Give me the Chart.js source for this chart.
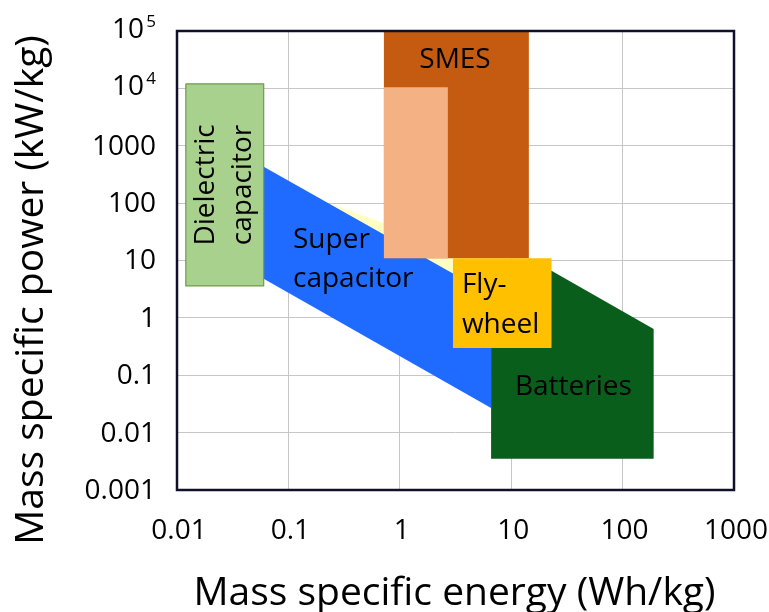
<!DOCTYPE html>
<html>
<head>
<meta charset="utf-8">
<script src="https://cdn.jsdelivr.net/npm/chart.js@4.4.0/dist/chart.umd.min.js"></script>
<style>
body { margin: 0; background: #fff; }
</style>
</head>
<body>
<canvas id="ragone" width="769" height="612"></canvas>
<script>
// axis decades
var energyTicks = [0.01, 0.1, 1, 10, 100, 1000];
var powerTicks = [0.001, 0.01, 0.1, 1, 10, 100, 1000, 1e4, 1e5];

// region outlines, energy in Wh/kg and power in kW/kg
var dielEnergy = [0.012, 0.06, 0.06, 0.012, 0.012];
var dielPower = [12000, 12000, 3.6, 3.6, 12000];

var superEnergy = [0.06, 6.6, 6.6, 0.06, 0.06];
var superPower = [430, 2.5, 0.027, 4.8, 430];

var paleEnergy = [0.24, 3.5, 3.5, 0.24];
var palePower = [100, 14, 3.1, 100];

var battEnergy = [6.6, 6.6, 23, 190, 190, 6.6];
var battPower = [0.0035, 6.6, 6.6, 0.64, 0.0035, 0.0035];

var flyEnergy = [3.0, 23, 23, 3.0, 3.0];
var flyPower = [11, 11, 0.3, 0.3, 11];

var smesEnergy = [0.72, 14.4, 14.4, 0.72, 0.72];
var smesPower = [1e5, 1e5, 11, 11, 1e5];

var smesInnerEnergy = [0.72, 2.7, 2.7, 0.72, 0.72];
var smesInnerPower = [10500, 10500, 11, 11, 10500];

function pts(e, p) {
    return e.map(function (v, i) { return { x: v, y: p[i] }; });
}

//one filled outline
function region(e, p, fill, border) {
    return {
        data: pts(e, p),
        showLine: true,
        fill: 'shape',
        backgroundColor: fill,
        borderColor: border || 'rgba(0,0,0,0)',
        borderWidth: border ? 1.2 : 0,
        pointRadius: 0,
        tension: 0
    };
}

var font = '"Open Sans", "Noto Sans", sans-serif';

var overlay = {
    id: 'overlay',
    afterDatasetsDraw: function (chart) {
        var ctx = chart.ctx, a = chart.chartArea;
        var x = chart.scales.x, y = chart.scales.y;
        ctx.save();
        // frame round the plot
        ctx.strokeStyle = '#10102a';
        ctx.lineWidth = 2.5;
        ctx.strokeRect(a.left, a.top, a.right - a.left, a.bottom - a.top);

        // region names
        ctx.fillStyle = '#000';
        ctx.font = '28px ' + font;
        ctx.textBaseline = 'alphabetic';
        ctx.textAlign = 'center';
        ctx.fillText('SMES', x.getPixelForValue(3.13), y.getPixelForValue(22600));
        ctx.textAlign = 'left';
        ctx.fillText('Super', x.getPixelForValue(0.11), y.getPixelForValue(16.6));
        ctx.fillText('capacitor', x.getPixelForValue(0.11), y.getPixelForValue(3.47));
        ctx.fillText('Fly-', x.getPixelForValue(3.61), y.getPixelForValue(2.73));
        ctx.fillText('wheel', x.getPixelForValue(3.61), y.getPixelForValue(0.548));
        ctx.fillText('Batteries', x.getPixelForValue(10.8), y.getPixelForValue(0.0456));

        // dielectric label runs upwards
        ctx.translate(x.getPixelForValue(0.0264), y.getPixelForValue(207));
        ctx.rotate(-Math.PI / 2);
        ctx.textAlign = 'center';
        ctx.textBaseline = 'middle';
        ctx.fillText('Dielectric', 0, -18);
        ctx.fillText('capacitor', 0, 19);
        ctx.restore();
    },
    afterDraw: function (chart) {
        var ctx = chart.ctx, a = chart.chartArea;
        var x = chart.scales.x, y = chart.scales.y;
        ctx.save();
        ctx.fillStyle = '#000';
        ctx.textBaseline = 'middle';
        ctx.textAlign = 'right';
        // power tick labels, big ones as 10 with a superscript
        powerTicks.forEach(function (v) {
            var py = y.getPixelForValue(v);
            var lx = a.left - 21;
            if (v >= 1e4) {
                ctx.font = '17px ' + font;
                ctx.fillText(String(Math.round(Math.log10(v))), lx, py - 9);
                ctx.font = '28px ' + font;
                ctx.fillText('10', lx - 12, py - 1);
            } else {
                ctx.font = '28px ' + font;
                ctx.fillText(String(v), lx, py + 1);
            }
        });

        // energy tick labels
        ctx.textAlign = 'center';
        ctx.font = '28px ' + font;
        energyTicks.forEach(function (v) {
            ctx.fillText(String(v), x.getPixelForValue(v) + 2, a.bottom + 41);
        });

        // axis titles
        ctx.font = '39px ' + font;
        ctx.textAlign = 'center';
        ctx.textBaseline = 'alphabetic';
        ctx.fillText('Mass specific energy (Wh/kg)', (a.left + a.right) / 2 - 1, a.bottom + 115);
        ctx.translate(43, 290);
        ctx.rotate(-Math.PI / 2);
        ctx.fillText('Mass specific power (kW/kg)', 0, 0);
        ctx.restore();
    }
};

var ctx = document.getElementById('ragone').getContext('2d');
var chart = new Chart(ctx, {
    type: 'scatter',
    data: {
        // first dataset ends up on top
        datasets: [
            region(flyEnergy, flyPower, '#ffc000'),
            region(smesInnerEnergy, smesInnerPower, '#f4b183'),
            region(smesEnergy, smesPower, '#c55a11'),
            region(battEnergy, battPower, '#0a5e1c'),
            region(dielEnergy, dielPower, '#a9d18e', '#6f9c4e'),
            region(superEnergy, superPower, '#1f6bff'),
            region(paleEnergy, palePower, '#ffffc4')
        ]
    },
    options: {
        responsive: false,
        animation: false,
        layout: { padding: { top: 31, right: 35, left: 0, bottom: 0 } },
        plugins: { legend: { display: false }, tooltip: { enabled: false } },
        scales: {
            x: {
                type: 'logarithmic',
                min: 0.01,
                max: 1000,
                afterBuildTicks: function (s) {
                    s.ticks = energyTicks.map(function (v) { return { value: v }; });
                },
                afterFit: function (s) { s.height = 122; },
                grid: { color: '#c6c6c6', lineWidth: 1, drawTicks: false },
                border: { display: false },
                ticks: { display: false }
            },
            y: {
                type: 'logarithmic',
                min: 0.001,
                max: 1e5,
                afterBuildTicks: function (s) {
                    s.ticks = powerTicks.map(function (v) { return { value: v }; });
                },
                afterFit: function (s) { s.width = 177; },
                grid: { color: '#c6c6c6', lineWidth: 1, drawTicks: false },
                border: { display: false },
                ticks: { display: false }
            }
        }
    },
    plugins: [overlay]
});
</script>
</body>
</html>
